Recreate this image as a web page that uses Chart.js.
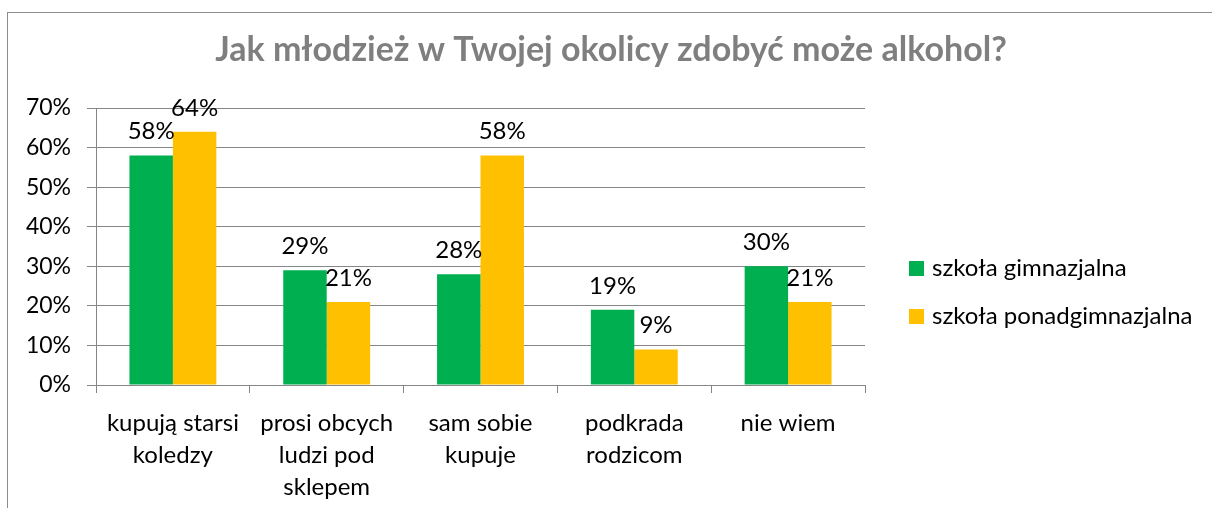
<!DOCTYPE html>
<html>
<head>
<meta charset="utf-8">
<script src="https://cdn.jsdelivr.net/npm/chart.js@4/dist/chart.umd.min.js"></script>
<style>
  body { margin: 0; background: #fff; }
  #wrap { position: relative; width: 1212px; height: 508px; }
  #frame { position: absolute; left: 7px; top: 12px; width: 1220px; height: 520px;
           border: 1px solid #8c8c8c; pointer-events: none; }
</style>
</head>
<body>
<div id="wrap">
  <canvas id="chart" width="1212" height="508"></canvas>
  <div id="frame"></div>
</div>
<script>
// Chart data
const categories = [
    ["kupują starsi", "koledzy"],
    ["prosi obcych", "ludzi pod", "sklepem"],
    ["sam sobie", "kupuje"],
    ["podkrada", "rodzicom"],
    ["nie wiem"]
];
const gimnazjum = [58, 29, 28, 19, 30];
const liceum = [64, 21, 58, 9, 21];
const seriesNames = ["szkoła gimnazjalna", "szkoła ponadgimnazjalna"];
const seriesColors = ["#00B050", "#FFC000"];
const yTicks = [0, 10, 20, 30, 40, 50, 60, 70];
const titleText = "Jak młodzież w Twojej okolicy zdobyć może alkohol?";

const FONT = "Lato, 'Open Sans', sans-serif";

// Title centred on the whole canvas
const bigTitle = {
    id: "bigTitle",
    afterDraw(chart) {
        const ctx = chart.ctx;
        ctx.save();
        ctx.font = "bold 34px " + FONT;
        ctx.fillStyle = "#7f7f7f";
        ctx.textAlign = "center";
        ctx.textBaseline = "middle";
        ctx.fillText(titleText, 611, 50);
        ctx.restore();
    }
};

// Labels above each bar
const valueLabels = {
    id: "valueLabels",
    afterDatasetsDraw(chart) {
        const ctx = chart.ctx;
        ctx.save();
        ctx.font = "24px " + FONT;
        ctx.fillStyle = "#000";
        ctx.textAlign = "center";
        ctx.textBaseline = "alphabetic";
        chart.data.datasets.forEach((ds, i) => {
            chart.getDatasetMeta(i).data.forEach((bar, j) => {
                ctx.fillText(ds.data[j] + "%", bar.x, bar.y - 16);
            });
        });
        ctx.restore();
    }
};

// Legend on the right side
const sideLegend = {
    id: "sideLegend",
    afterDraw(chart) {
        const ctx = chart.ctx;
        const x = 909;
        ctx.save();
        ctx.font = "24px " + FONT;
        ctx.textBaseline = "middle";
        chart.data.datasets.forEach((ds, i) => {
            const y = 268 + i * 48;
            ctx.fillStyle = ds.backgroundColor;
            ctx.fillRect(x, y - 7, 15, 15);
            ctx.fillStyle = "#000";
            ctx.fillText(ds.label, x + 23, y);
        });
        ctx.restore();
    }
};

new Chart(document.getElementById("chart"), {
    type: "bar",
    data: {
        labels: categories,
        datasets: [
            { label: seriesNames[0], data: gimnazjum, backgroundColor: seriesColors[0] },
            { label: seriesNames[1], data: liceum, backgroundColor: seriesColors[1] }
        ]
    },
    options: {
        responsive: false,
        animation: false,
        layout: { padding: { top: 108, right: 347, left: 0, bottom: 0 } },
        datasets: { bar: { categoryPercentage: 0.565, barPercentage: 1 } },
        plugins: {
            legend: { display: false },
            tooltip: { enabled: false },
            title: { display: false }
        },
        scales: {
            x: {
                grid: { drawOnChartArea: false, drawTicks: true, tickLength: 8, color: "#868686" },
                border: { color: "#868686", width: 1 },
                ticks: {
                    color: "#000",
                    font: { family: FONT, size: 24, lineHeight: 1.33 },
                    maxRotation: 0,
                    autoSkip: false,
                    padding: 14
                },
                afterFit(scale) { scale.height = 123; }
            },
            y: {
                min: 0,
                max: 70,
                afterBuildTicks(scale) { scale.ticks = yTicks.map(v => ({ value: v })); },
                grid: { color: "#868686", tickLength: 9 },
                border: { color: "#868686", width: 1 },
                ticks: {
                    color: "#000",
                    font: { family: FONT, size: 23 },
                    padding: 16,
                    callback: v => v + "%"
                },
                afterFit(scale) { scale.width = 96; }
            }
        }
    },
    plugins: [valueLabels, sideLegend, bigTitle]
});
</script>
</body>
</html>
